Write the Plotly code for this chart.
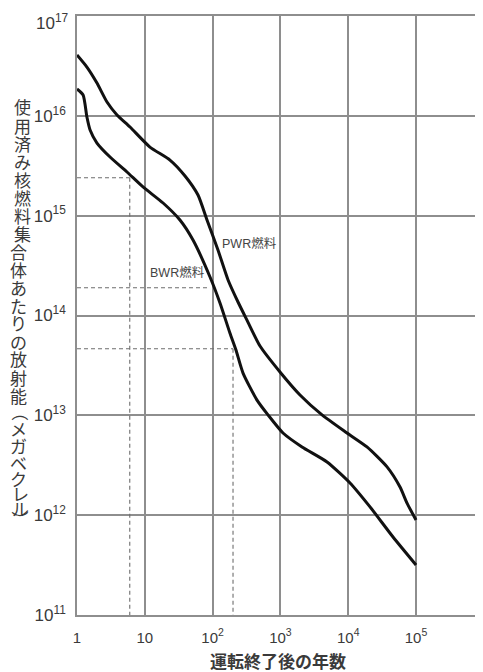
import plotly.graph_objects as go

# ---------------- data ----------------
pwr_years = [1, 1.4, 1.97, 2.77, 3.89, 6.05, 11.9, 23.5, 39.2, 60.9, 82.7, 120, 169,
             237, 321, 500, 986, 1945, 4110, 9600, 18900, 37400, 58100, 73700, 100000]
pwr_activity = [4.07e16, 3.08e16, 2.13e16, 1.375e16, 1.02e16, 7.73e15, 4.87e15, 3.61e15,
                2.50e15, 1.61e15, 9.05e14, 4.53e14, 2.27e14, 1.365e14, 9.0e13, 4.95e13,
                2.72e13, 1.60e13, 1.01e13, 6.65e12, 4.82e12, 3.04e12, 1.91e12, 1.32e12, 8.94e11]

bwr_years = [1, 1.23, 1.40, 1.56, 1.97, 3.07, 5.46, 9.41, 18.6, 33.0, 51.4, 91.6, 128.5,
             180, 221, 281, 452, 656, 1092, 2083, 4870, 10630, 20970, 45800, 100000]
bwr_activity = [1.857e16, 1.617e16, 9.73e15, 7.21e15, 5.34e15, 3.87e15, 2.74e15, 1.94e15,
                1.34e15, 9.05e14, 5.70e14, 2.43e14, 1.334e14, 6.68e13, 4.51e13, 2.65e13,
                1.42e13, 1.01e13, 6.65e12, 4.82e12, 3.41e12, 2.10e12, 1.21e12, 6.04e11, 3.17e11]

# dashed guide lines: level, year where the guide meets the curve, label
guide_levels = [2.4e15, 1.9e14, 4.65e13]
guide_years = [6, 90, 200]
guide_labels = ["3.1", "2.0", "4.8"]
drop_years = [6, 200]          # vertical guides down to the x axis
drop_labels = ["6", "2"]
drop_from = [2.4e15, 4.65e13]

x_tickvals = [1, 10, 100, 1e3, 1e4, 1e5]
x_ticktext = ["1", "10", "10<sup>2</sup>", "10<sup>3</sup>", "10<sup>4</sup>", "10<sup>5</sup>"]
y_tickvals = [1e11, 1e12, 1e13, 1e14, 1e15, 1e16, 1e17]
y_ticktext = ["10<sup>11</sup>", "10<sup>12</sup>", "10<sup>13</sup>", "10<sup>14</sup>",
              "10<sup>15</sup>", "10<sup>16</sup>", "10<sup>17</sup>"]

y_title = "使用済み核燃料集合体あたりの放射能（メガベクレル）"
x_title = "運転終了後の年数"

# ---------------- layout geometry ----------------
# the page body has an 8px default margin, so the figure is drawn 8px in from the corner
OFF = 8
W, H = 483 - OFF, 672 - OFF
PLOT_L, PLOT_R, PLOT_T, PLOT_B = 77, 483, 16, 615     # plot area in window pixels
ML, MT = PLOT_L - OFF, PLOT_T - OFF
MR = OFF + W - PLOT_R
MB = OFF + H - PLOT_B
PW, PH = PLOT_R - PLOT_L, PLOT_B - PLOT_T


def px(xp):
    return (xp - PLOT_L) / PW


def py(yp):
    return (PLOT_B - yp) / PH


GRID = "#8e8e8e"
DASH = "#6e6e6e"
TXT = "#3a3a3a"

fig = go.Figure()

# guides
for lvl, yr in zip(guide_levels, guide_years):
    fig.add_trace(go.Scatter(x=[1, yr], y=[lvl, lvl], mode="lines",
                             line=dict(color=DASH, width=1.1, dash="4px,3px"),
                             hoverinfo="skip", showlegend=False))
for yr, top in zip(drop_years, drop_from):
    fig.add_trace(go.Scatter(x=[yr, yr], y=[top, 1e11], mode="lines",
                             line=dict(color=DASH, width=1.1, dash="4px,3px"),
                             hoverinfo="skip", showlegend=False))

# curves
fig.add_trace(go.Scatter(x=pwr_years, y=pwr_activity, mode="lines", name="PWR燃料",
                         line=dict(color="#111111", width=3, shape="spline", smoothing=0.6),
                         showlegend=False))
fig.add_trace(go.Scatter(x=bwr_years, y=bwr_activity, mode="lines", name="BWR燃料",
                         line=dict(color="#111111", width=3, shape="spline", smoothing=0.6),
                         showlegend=False))

annotations = []
# the top tick label sits a little below its grid line (it would be clipped otherwise)
annotations.append(dict(x=px(PLOT_L - 6), xref="paper", y=py(22), yref="paper",
                        text=y_ticktext[-1], showarrow=False,
                        xanchor="right", yanchor="middle",
                        font=dict(family="Liberation Sans", size=17, color=TXT)))
# guide labels on y side
for lvl, lab in zip(guide_levels, guide_labels):
    annotations.append(dict(x=px(72), xref="paper", y=lvl, yref="y", text=lab,
                            showarrow=False, xanchor="right", yanchor="middle",
                            font=dict(family="Liberation Serif", size=13, color="#555555",
                                      style="italic")))
# labels under x axis for vertical guides
for yr, lab in zip(drop_years, drop_labels):
    annotations.append(dict(x=yr, xref="x", y=py(625), yref="paper", text=lab,
                            showarrow=False, xanchor="center", yanchor="middle",
                            font=dict(family="Liberation Serif", size=13, color="#555555",
                                      style="italic")))

# curve labels
annotations.append(dict(x=px(220), xref="paper", y=py(243), yref="paper", text="PWR燃料",
                        showarrow=False, xanchor="left", yanchor="middle",
                        font=dict(family="Liberation Sans, Noto Sans CJK JP", size=12.5,
                                  color="#444444")))
annotations.append(dict(x=px(148), xref="paper", y=py(272), yref="paper", text="BWR燃料",
                        showarrow=False, xanchor="left", yanchor="middle",
                        font=dict(family="Liberation Sans, Noto Sans CJK JP", size=12.5,
                                  color="#444444")))

# vertical y-axis title, one upright character per line
char_y = [107 + 18 * i for i in range(17)] + [412, 428, 445, 462, 478, 493, 508, 519]
for i, ch in enumerate(y_title):
    if ch in "（）":
        cx, ang = 21, 90
    else:
        cx, ang = (22 if i < 8 else (18 if i < 22 else 20)), 0
    annotations.append(dict(x=px(cx), xref="paper", y=py(char_y[i]), yref="paper", text=ch,
                            showarrow=False, xanchor="center", yanchor="middle",
                            textangle=ang,
                            font=dict(family="Noto Sans CJK JP", size=17, color=TXT)))

# x title
annotations.append(dict(x=px(278), xref="paper", y=py(660), yref="paper",
                        text="<b>" + x_title + "</b>", showarrow=False,
                        xanchor="center", yanchor="middle",
                        font=dict(family="Noto Sans CJK JP", size=17, color=TXT)))

fig.update_layout(
    width=W, height=H,
    margin=dict(l=ML, r=MR, t=MT, b=MB, pad=0, autoexpand=False),
    paper_bgcolor="white", plot_bgcolor="white",
    annotations=annotations,
    showlegend=False,
    xaxis=dict(type="log", range=[0, 5.988], tickvals=x_tickvals, ticktext=x_ticktext,
               showgrid=True, gridcolor=GRID, gridwidth=1.5, automargin=False,
               showline=True, linecolor=GRID, linewidth=1.5, mirror=True,
               ticks="", zeroline=False, ticklabelstandoff=8, ticklabeloverflow="allow",
               tickfont=dict(family="Liberation Sans", size=15, color=TXT)),
    yaxis=dict(type="log", range=[10.9995, 17.0005], tickvals=y_tickvals,
               ticktext=y_ticktext[:-1] + [""],
               showgrid=True, gridcolor=GRID, gridwidth=1.5, automargin=False,
               showline=True, linecolor=GRID, linewidth=1.5,
               ticks="", zeroline=False, ticklabelstandoff=6, ticklabeloverflow="allow",
               tickfont=dict(family="Liberation Sans", size=17, color=TXT)),
)

fig.write_html("out.html")
